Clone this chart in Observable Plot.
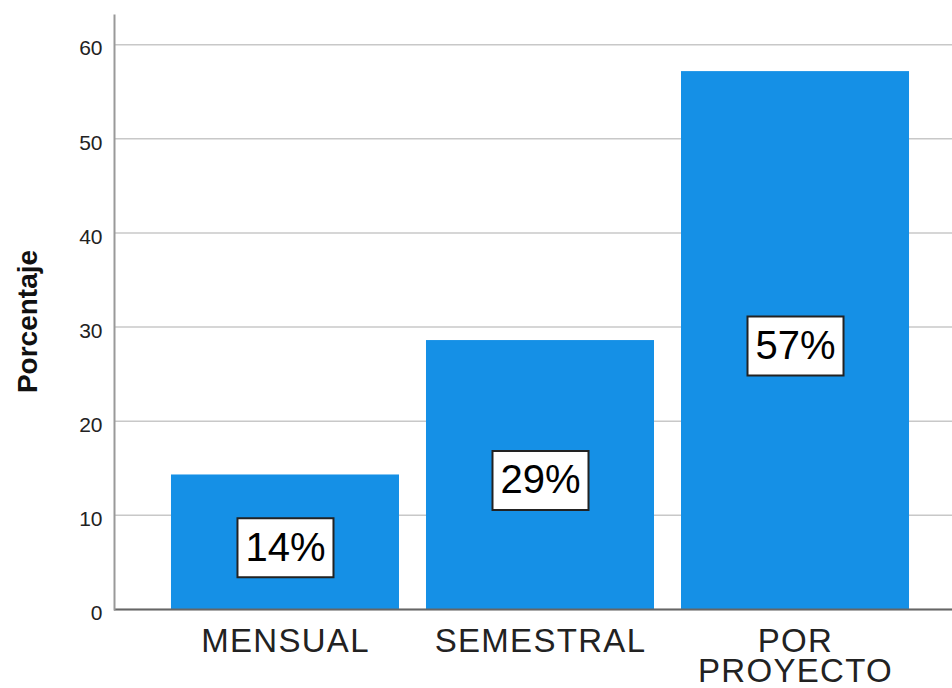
<!DOCTYPE html>
<html><head><meta charset="utf-8">
<script src="https://cdn.jsdelivr.net/npm/d3@7"></script>
<script src="https://cdn.jsdelivr.net/npm/@observablehq/plot@0.6"></script>
<style>
body{margin:0;background:#fff;}
#chart svg{display:block;}
[aria-label="x-axis tick label"] text{letter-spacing:1.3px;}
</style></head><body><div id="chart"></div>
<script>
const categories = ["MENSUAL", "SEMESTRAL", "POR PROYECTO"];
const percentages = [14.29, 28.57, 57.14];
const yTicks = [0, 10, 20, 30, 40, 50, 60];
const yLabel = "Porcentaje";

const data = categories.map((c, i) => ({category: c, value: percentages[i], label: Math.round(percentages[i]) + "%"}));
const boxSymbol = {draw(ctx) { ctx.rect(-48, -29.5, 96, 59); }};

const chart = Plot.plot({
  width: 952, height: 688,
  marginLeft: 114, marginRight: 0, marginTop: 15, marginBottom: 79,
  style: {fontFamily: "'Liberation Sans', Arial, sans-serif", background: "#fff", color: "#222"},
  x: {domain: categories, paddingInner: 0.1059, paddingOuter: 0.196, align: 0.57, round: false},
  y: {domain: [0, 63.1]},
  marks: [
    Plot.gridY(yTicks, {stroke: "#c8c8c8", strokeOpacity: 1, strokeWidth: 1.5}),
    Plot.barY(data, {x: "category", y: "value", fill: "#1590e6"}),
    Plot.ruleY([0], {stroke: "#666", strokeWidth: 2}),
    Plot.frame({anchor: "left", stroke: "#999", strokeWidth: 2}),
    Plot.axisY(yTicks, {tickSize: 0, tickPadding: 12, fontSize: 21, dy: 4, label: null}),
    Plot.text([yLabel], {frameAnchor: "left", textAnchor: "middle", rotate: -90, dx: -86, dy: 9, fontSize: 28, fontWeight: "bold", fill: "#111"}),
    Plot.axisX({tickSize: 0, tickPadding: 21, fontSize: 33, lineHeight: 0.92, tickFormat: d => d.replace(" ", "\n"), label: null}),
    Plot.dot(data, {x: "category", y: d => d.value / 2, symbol: boxSymbol, fill: "white", stroke: "#222", strokeWidth: 2, dy: 5.5}),
    Plot.text(data, {x: "category", y: d => d.value / 2, text: "label", fontSize: 40, fill: "#000", dy: 5.5})
  ]
});
document.getElementById("chart").appendChild(chart);
</script></body></html>
